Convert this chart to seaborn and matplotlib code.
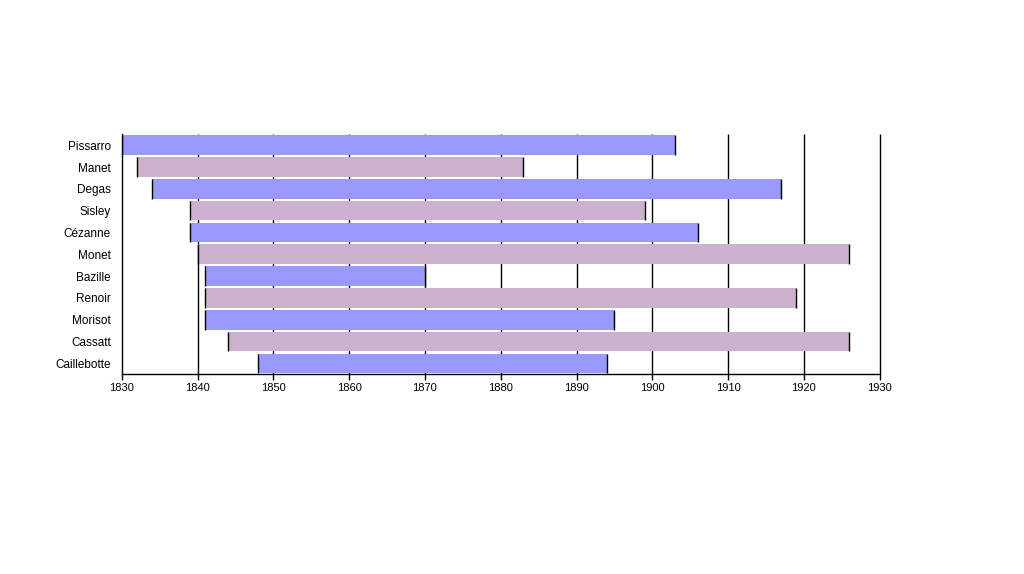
import matplotlib.pyplot as plt
import pandas as pd
import seaborn as sns

painters = ["Pissarro", "Manet", "Degas", "Sisley", "Cézanne", "Monet",
            "Bazille", "Renoir", "Morisot", "Cassatt", "Caillebotte"]
born = [1830, 1832, 1834, 1839, 1839, 1840, 1841, 1841, 1841, 1844, 1848]
died = [1903, 1883, 1917, 1899, 1906, 1926, 1870, 1919, 1895, 1926, 1894]
decades = list(range(1830, 1931, 10))

df = pd.DataFrame({"painter": painters, "born": born, "died": died})
df["years"] = df["died"] - df["born"]

sns.set_theme(style="white")
plt.rcParams["font.family"] = ["Liberation Sans", "DejaVu Sans"]
plt.rcParams["text.color"] = "black"
plt.rcParams["xtick.color"] = "black"
plt.rcParams["ytick.color"] = "black"

fig = plt.figure(figsize=(10.24, 5.74), dpi=100)
ax = fig.add_axes([0.119, 0.348, 0.740, 0.418])

# grid behind the bars
ax.vlines(decades[1:], -0.5, len(painters) - 0.5, color="black", lw=1,
          zorder=0, clip_on=False)

sns.barplot(data=df, x="years", y="painter", left=df["born"], width=0.9,
            color="#9999ff", saturation=1, ax=ax, zorder=2)

colors = ["#9999ff", "#ccb1cc"]
for i, bar in enumerate(ax.patches):
    bar.set_facecolor(colors[i % 2])
    bar.set_edgecolor("none")

# black end caps at birth and death
ys = range(len(painters))
ax.vlines(df["born"], [y - 0.45 for y in ys], [y + 0.45 for y in ys],
          color="black", lw=1, zorder=3)
ax.vlines(df["died"], [y - 0.45 for y in ys], [y + 0.45 for y in ys],
          color="black", lw=1, zorder=3, clip_on=False)

ax.set_xlim(1830, 1930)
ax.set_ylim(len(painters) - 0.5, -0.5)
ax.set_xticks(decades)
ax.set_xlabel("")
ax.set_ylabel("")
ax.tick_params(axis="x", length=4, width=1, color="black", direction="out",
               bottom=True, labelsize=8, labelcolor="black", pad=2)
ax.tick_params(axis="y", length=0, labelsize=8.5, labelcolor="black", pad=8)
for side in ["top", "right"]:
    ax.spines[side].set_visible(False)
for side in ["left", "bottom"]:
    ax.spines[side].set_color("black")
    ax.spines[side].set_linewidth(1)

fig.savefig("out.png", dpi=100)
